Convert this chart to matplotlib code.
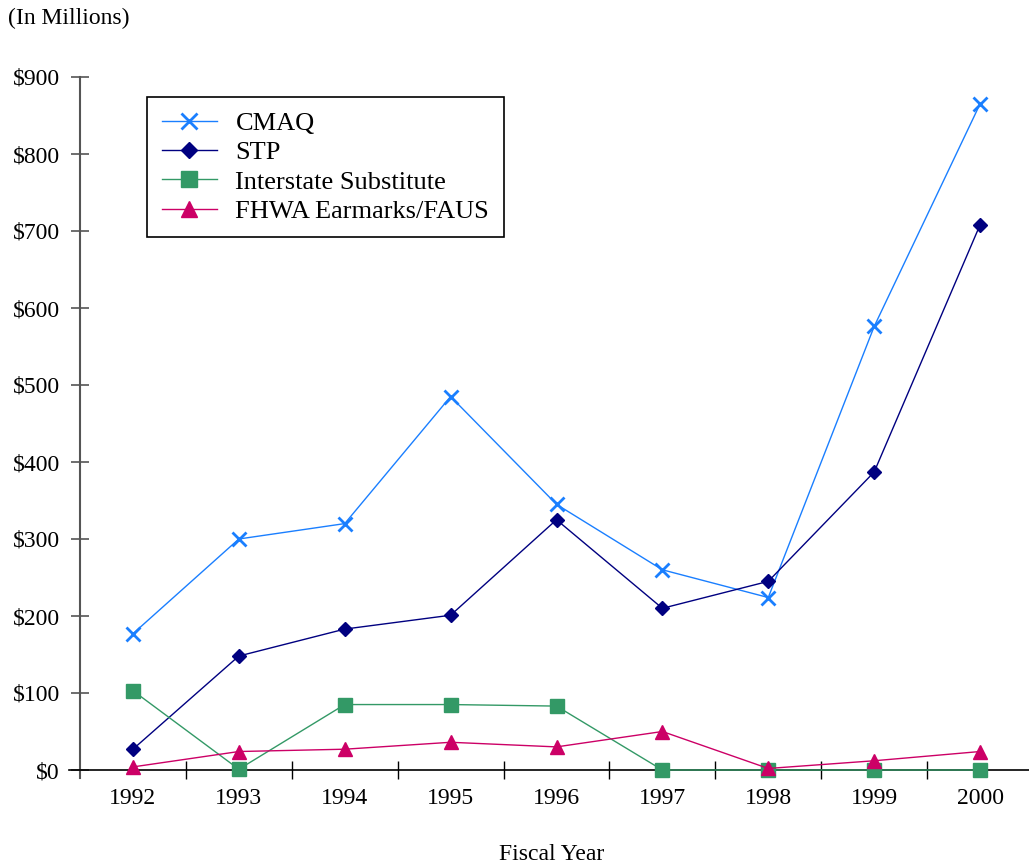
import matplotlib
matplotlib.use("Agg")
import matplotlib.pyplot as plt

years = ["1992", "1993", "1994", "1995", "1996", "1997", "1998", "1999", "2000"]
cmaq = [177, 300, 320, 485, 345, 260, 224, 576, 865]
stp = [27, 148, 183, 201, 325, 210, 245, 387, 708]
interstate = [103, 1, 85, 85, 83, 0, 0, 0, 0]
fhwa = [4, 24, 27, 36, 30, 50, 2, 12, 24]
ytick_vals = [0, 100, 200, 300, 400, 500, 600, 700, 800, 900]
ytick_labels = ["$0", "$100", "$200", "$300", "$400", "$500", "$600", "$700", "$800", "$900"]

plt.rcParams['font.family'] = ['Liberation Serif', 'DejaVu Serif']

W, H = 1029, 868
fig = plt.figure(figsize=(W / 100, H / 100), dpi=100)
left = 80 / W
bottom = (H - 770) / H
top = (H - 77) / H
right = 1033 / W
ax = fig.add_axes([left, bottom, right - left, top - bottom])

x = list(range(len(years)))
ax.plot(x, cmaq, color="#1a7fff", lw=1, marker="x", ms=10, mew=2, label="CMAQ", clip_on=False, zorder=3)
ax.plot(x, stp, color="#000080", lw=1, marker="D", ms=7, label="STP", clip_on=False, zorder=3)
ax.plot(x, interstate, color="#339966", lw=1, marker="s", ms=10, label="Interstate Substitute", clip_on=False, zorder=3)
ax.plot(x, fhwa, color="#cc0066", lw=1, marker="^", ms=10, label="FHWA Earmarks/FAUS", clip_on=False, zorder=4)

ax.set_xlim(-0.5, len(years) - 0.5)
ax.set_ylim(0, 900)
ax.set_yticks(ytick_vals)
ax.set_yticklabels(ytick_labels, fontsize=17)
ax.set_xticks(x)
ax.set_xticklabels(years, fontsize=17)
ax.set_xticks([i + 0.5 for i in x[:-1]], minor=True)
ax.tick_params(axis="x", which="major", length=0, pad=13)
ax.tick_params(axis="x", which="minor", length=13, direction="inout", color="black", width=1)
ax.tick_params(axis="y", which="major", length=13, direction="inout", color="#555555", width=1.2, pad=8)

for s in ["top", "right"]:
    ax.spines[s].set_visible(False)
ax.spines["left"].set_color("#555555")
ax.spines["left"].set_linewidth(1.5)
ax.spines["left"].set_bounds(-10, 900)
ax.spines["bottom"].set_color("black")
ax.spines["bottom"].set_linewidth(1.2)
ax.spines["bottom"].set_bounds(-0.6, len(years) - 0.5)

ax.set_xlabel("Fiscal Year", fontsize=17)
ax.xaxis.set_label_coords((552 - 80) / (1033 - 80), -(844 - 770) / (770 - 77))
fig.text(8 / W, 1 - 18 / H, "(In Millions)", fontsize=17, ha="left", va="center")

leg = ax.legend(loc="upper left", bbox_to_anchor=((147 - 80) / (1033 - 80), 1 - (97 - 77) / (770 - 77)),
                fontsize=19, frameon=True, fancybox=False, edgecolor="black", framealpha=1,
                handlelength=2.1, labelspacing=0.22, borderpad=0.55, handletextpad=0.7,
                borderaxespad=0, markerscale=1.2)
leg.get_frame().set_linewidth(1.2)

fig.savefig("out.png", dpi=100)
